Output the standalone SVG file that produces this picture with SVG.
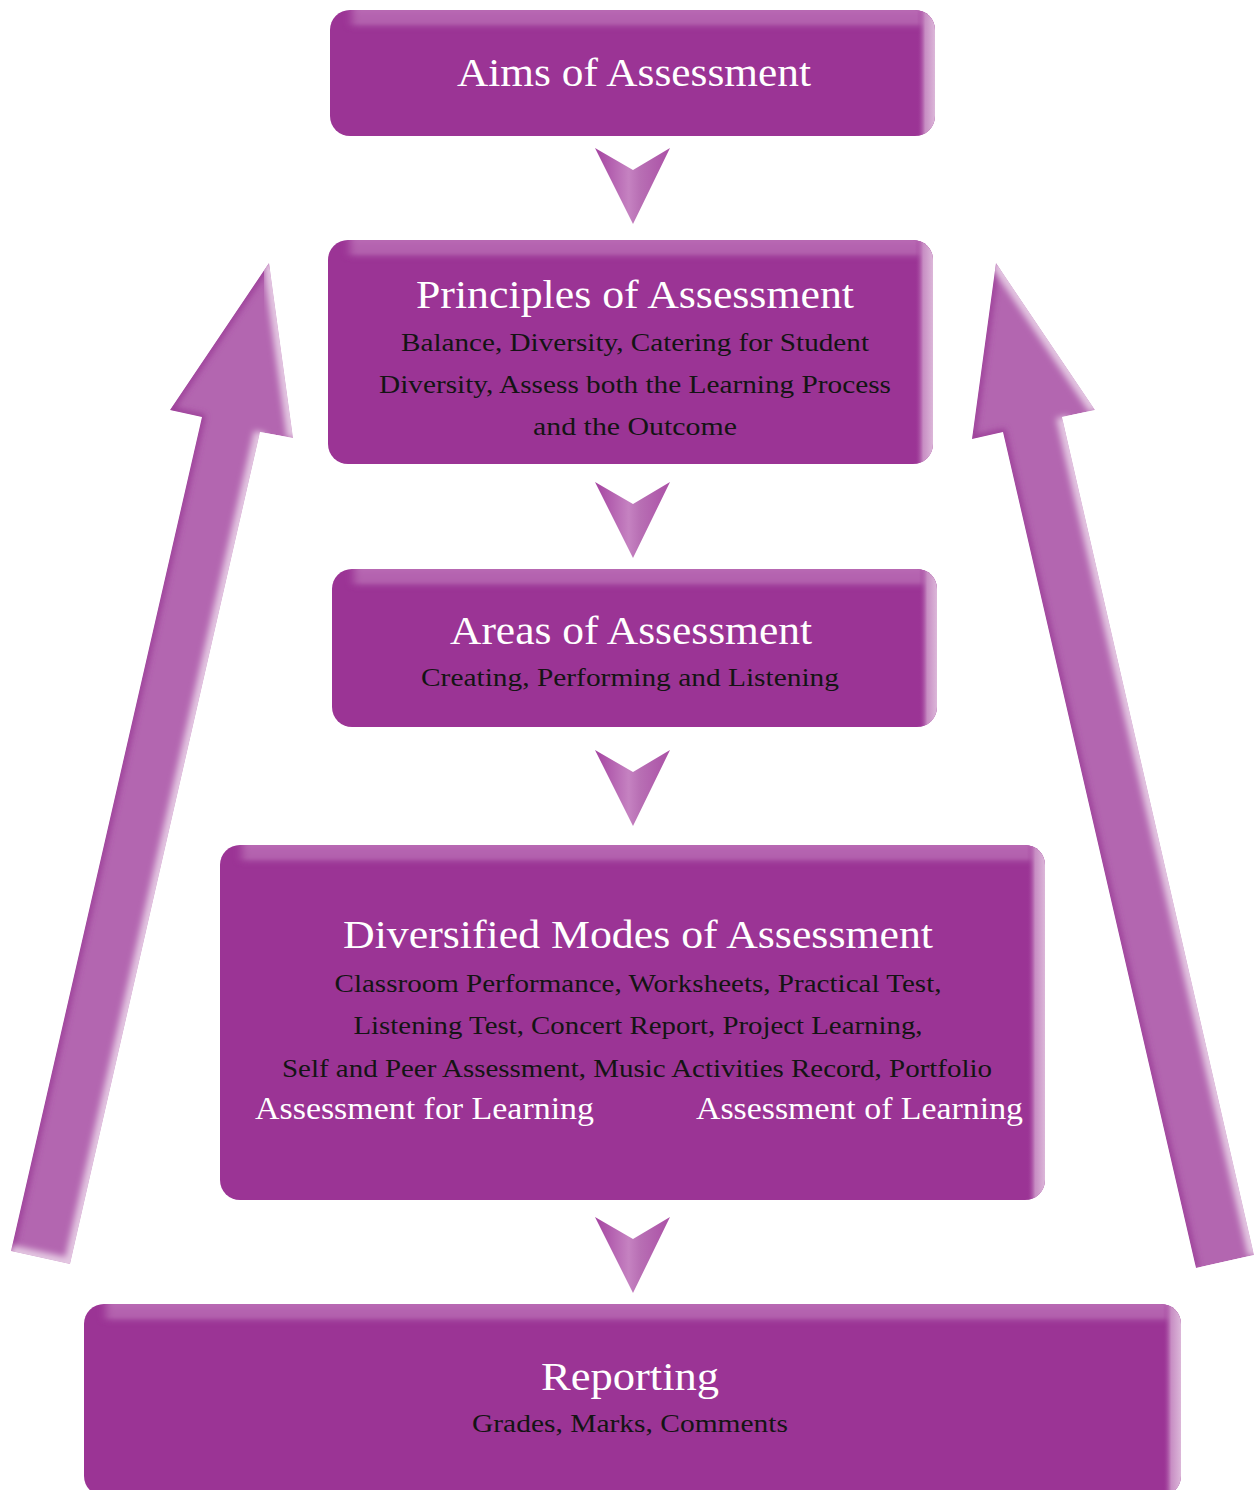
<svg xmlns="http://www.w3.org/2000/svg" width="1255" height="1490" viewBox="0 0 1255 1490">
<style>
.base{fill:#9b3495}
.top{fill:url(#gTop);filter:url(#soft)}
.right{fill:url(#gRight)}
.t{font-family:"Liberation Serif","Times New Roman",serif;fill:#ffffff;text-anchor:middle}
.s{font-family:"Liberation Serif","Times New Roman",serif;fill:#141414;text-anchor:middle}
.h{font-size:39px}
.b{font-size:26px}
.m{font-size:31px}
.arrow{fill:#b366b0}
.lite{stroke:#e4c8e2;stroke-width:12;fill:none;filter:url(#blur)}
.dark{stroke:#9a3a96;stroke-width:6;fill:none;filter:url(#blur)}
</style>
<defs>
<linearGradient id="gTop" x1="0" y1="0" x2="0" y2="1">
<stop offset="0" stop-color="#b96ab4"/>
<stop offset="0.65" stop-color="#b260ad"/>
<stop offset="1" stop-color="#9b3495" stop-opacity="0"/>
</linearGradient>
<linearGradient id="gRight" x1="0" y1="0" x2="1" y2="0">
<stop offset="0" stop-color="#9b3495" stop-opacity="0"/>
<stop offset="0.45" stop-color="#c78dc3"/>
<stop offset="1" stop-color="#dcb7d9"/>
</linearGradient>
<linearGradient id="gChev" x1="0" y1="0" x2="1" y2="0">
<stop offset="0" stop-color="#a443a0"/>
<stop offset="0.45" stop-color="#c582c1"/>
<stop offset="0.6" stop-color="#b86fb4"/>
<stop offset="1" stop-color="#ab50a6"/>
</linearGradient>
<filter id="blur" x="-20%" y="-20%" width="140%" height="140%"><feGaussianBlur stdDeviation="3"/></filter>
<filter id="soft" x="-5%" y="-50%" width="110%" height="200%"><feGaussianBlur stdDeviation="4 1"/></filter>
<path id="chev" d="M595,0 L633,22 L670,0 L633,76 Z" fill="url(#gChev)"/>
<clipPath id="c1"><rect x="330" y="10" width="605" height="126" rx="20"/></clipPath>
<clipPath id="c2"><rect x="328" y="240" width="605" height="224" rx="20"/></clipPath>
<clipPath id="c3"><rect x="332" y="569" width="605" height="158" rx="20"/></clipPath>
<clipPath id="c4"><rect x="220" y="845" width="825" height="355" rx="20"/></clipPath>
<clipPath id="c5"><rect x="84" y="1304" width="1097" height="192" rx="20"/></clipPath>
<clipPath id="cl"><polygon points="269,263 293,438 260,432 70,1264 11,1251 202,417 170,410"/></clipPath>
<clipPath id="cr"><polygon points="996,263 1095,410 1062,417 1254,1255 1196,1268 1003,432 972,439"/></clipPath>
</defs>

<g id="connectors">
<g id="arrow-left" clip-path="url(#cl)">
<polygon class="arrow" points="269,263 293,438 260,432 70,1264 11,1251 202,417 170,410"/>
<polyline class="dark" points="269,263 170,410 202,417 11,1251"/>
<polyline class="lite" points="269,263 293,438"/>
<polyline class="lite" points="260,432 70,1264 11,1251"/>
</g>
<g id="arrow-right" clip-path="url(#cr)">
<polygon class="arrow" points="996,263 1095,410 1062,417 1254,1255 1196,1268 1003,432 972,439"/>
<polyline class="dark" points="996,263 972,439 1003,432 1196,1268"/>
<polyline class="lite" points="996,263 1095,410"/>
<polyline class="lite" points="1062,417 1254,1255"/>
</g>
<use href="#chev" y="148"/>
<use href="#chev" y="482"/>
<use href="#chev" y="750"/>
<use href="#chev" y="1217"/>
</g>

<g id="aims">
<rect class="base" x="330" y="10" width="605" height="126" rx="20"/>
<g clip-path="url(#c1)">
<rect class="top" x="352" y="6" width="583" height="26"/>
<rect class="right" x="917" y="10" width="18" height="126"/>
</g>
<text class="t h" x="634" y="86" textLength="354" lengthAdjust="spacingAndGlyphs">Aims of Assessment</text>
</g>

<g id="principles">
<rect class="base" x="328" y="240" width="605" height="224" rx="20"/>
<g clip-path="url(#c2)">
<rect class="top" x="350" y="236" width="583" height="26"/>
<rect class="right" x="915" y="240" width="18" height="224"/>
</g>
<text class="t h" x="635" y="308" textLength="438" lengthAdjust="spacingAndGlyphs">Principles of Assessment</text>
<text class="s b" x="635" y="351" textLength="468" lengthAdjust="spacingAndGlyphs">Balance, Diversity, Catering for Student</text>
<text class="s b" x="635" y="393" textLength="512" lengthAdjust="spacingAndGlyphs">Diversity, Assess both the Learning Process</text>
<text class="s b" x="635" y="435" textLength="204" lengthAdjust="spacingAndGlyphs">and the Outcome</text>
</g>

<g id="areas">
<rect class="base" x="332" y="569" width="605" height="158" rx="20"/>
<g clip-path="url(#c3)">
<rect class="top" x="354" y="565" width="583" height="26"/>
<rect class="right" x="919" y="569" width="18" height="158"/>
</g>
<text class="t h" x="631" y="644" textLength="362" lengthAdjust="spacingAndGlyphs">Areas of Assessment</text>
<text class="s b" x="630" y="686" textLength="418" lengthAdjust="spacingAndGlyphs">Creating, Performing and Listening</text>
</g>

<g id="modes">
<rect class="base" x="220" y="845" width="825" height="355" rx="20"/>
<g clip-path="url(#c4)">
<rect class="top" x="242" y="841" width="803" height="26"/>
<rect class="right" x="1027" y="845" width="18" height="355"/>
</g>
<text class="t h" x="638" y="948" textLength="590" lengthAdjust="spacingAndGlyphs">Diversified Modes of Assessment</text>
<text class="s b" x="638" y="992" textLength="607" lengthAdjust="spacingAndGlyphs">Classroom Performance, Worksheets, Practical Test,</text>
<text class="s b" x="638" y="1034" textLength="569" lengthAdjust="spacingAndGlyphs">Listening Test, Concert Report, Project Learning,</text>
<text class="s b" x="637" y="1077" textLength="710" lengthAdjust="spacingAndGlyphs">Self and Peer Assessment, Music Activities Record, Portfolio</text>
<text class="t m" x="424.5" y="1119" textLength="339" lengthAdjust="spacingAndGlyphs">Assessment for Learning</text>
<text class="t m" x="859.5" y="1119" textLength="327" lengthAdjust="spacingAndGlyphs">Assessment of Learning</text>
</g>

<g id="reporting">
<rect class="base" x="84" y="1304" width="1097" height="192" rx="20"/>
<g clip-path="url(#c5)">
<rect class="top" x="106" y="1300" width="1075" height="26"/>
<rect class="right" x="1163" y="1304" width="18" height="192"/>
</g>
<text class="t h" x="630" y="1390" textLength="178" lengthAdjust="spacingAndGlyphs">Reporting</text>
<text class="s b" x="630" y="1432" textLength="316" lengthAdjust="spacingAndGlyphs">Grades, Marks, Comments</text>
</g>
</svg>
